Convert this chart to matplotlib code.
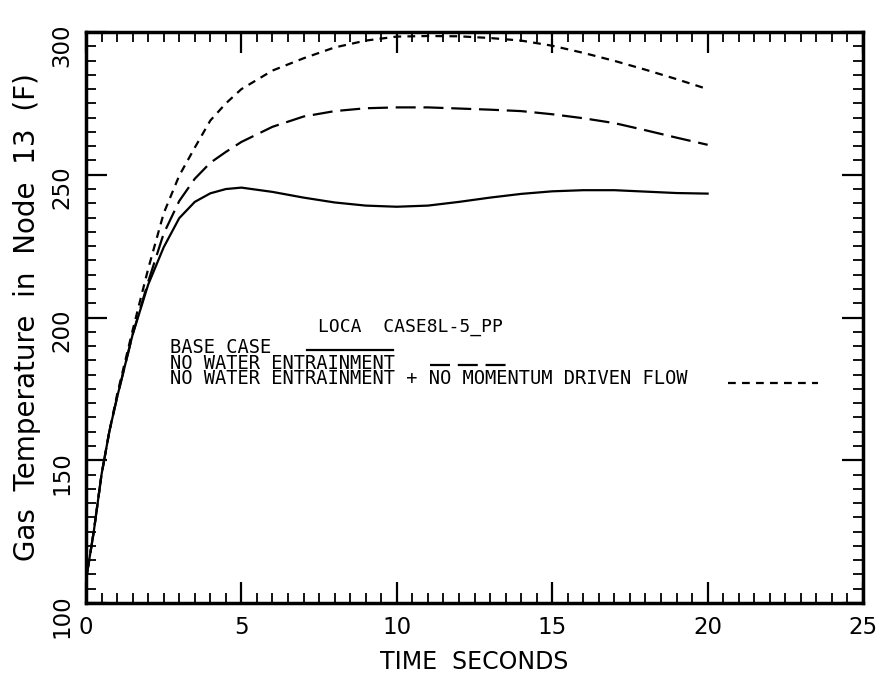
import matplotlib
matplotlib.use("Agg")
import matplotlib.pyplot as plt
from matplotlib.ticker import MultipleLocator

# gas temperature in node 13, LOCA case 8L-5_PP
time_s = [0, 0.25, 0.5, 0.75, 1, 1.5, 2, 2.5, 3, 3.5, 4, 4.5, 5,
          6, 7, 8, 9, 10, 11, 12, 13, 14, 15, 16, 17, 18, 19, 20]
base_case = [108, 125, 145, 160, 172, 194, 211.5, 224.6, 234.8, 240.5, 243.5, 245, 245.5,
             244, 242, 240.3, 239.2, 238.8, 239.2, 240.5, 242, 243.3, 244.2, 244.6,
             244.6, 244.1, 243.6, 243.4]
no_entrain = [108, 125, 145, 160, 172, 194, 212.5, 229.4, 240.8, 248.6, 254.2, 258, 261.5,
              266.8, 270.4, 272.3, 273.3, 273.6, 273.6, 273.2, 272.8, 272.3, 271.2, 269.8,
              268.1, 265.6, 263, 260.5]
no_entrain_no_mom = [108, 125, 145, 160, 173, 195.5, 217, 236.5, 249.7, 259.5, 269, 275, 280,
                     286.5, 290.8, 294.6, 297, 298.4, 298.6, 298.5, 297.9, 297, 295.2, 292.7,
                     289.9, 286.8, 283.5, 280]

legend_title = "LOCA  CASE8L-5_PP"
legend_labels = ["BASE CASE",
                 "NO WATER ENTRAINMENT",
                 "NO WATER ENTRAINMENT + NO MOMENTUM DRIVEN FLOW"]

fig = plt.figure(figsize=(8.81, 6.77), dpi=100)
ax = fig.add_axes([0.0976, 0.1093, 0.882, 0.8434])

lw = 1.6
dash_style = (0, (9, 3.5))
dot_style = (0, (3.5, 2.8))

ax.plot(time_s, base_case, color="black", lw=lw, solid_joinstyle="round")
ax.plot(time_s, no_entrain, color="black", lw=lw, linestyle=dash_style)
ax.plot(time_s, no_entrain_no_mom, color="black", lw=lw, linestyle=dot_style)

ax.set_xlim(0, 25)
ax.set_ylim(100, 300)
ax.xaxis.set_major_locator(MultipleLocator(5))
ax.xaxis.set_minor_locator(MultipleLocator(0.5))
ax.yaxis.set_major_locator(MultipleLocator(50))
ax.yaxis.set_minor_locator(MultipleLocator(5))

for s in ax.spines.values():
    s.set_linewidth(2.5)
ax.tick_params(which="both", direction="in", top=True, right=True, color="black")
ax.tick_params(which="major", length=15, width=1.6, labelsize=16.5, pad=9)
ax.tick_params(which="minor", length=7, width=1.3)
ax.tick_params(axis="y", labelrotation=90)

ax.set_xlabel("TIME  SECONDS", fontsize=17, labelpad=8)
ax.set_ylabel("Gas  Temperature  in  Node  13  (F)", fontsize=20, labelpad=7)

# hand-made legend block inside the axes
mono = "DejaVu Sans Mono"
tr = ax.transAxes
ax.text(0.417, 0.483, legend_title, transform=tr, fontsize=13, family=mono,
        ha="center", va="center")
ax.text(0.108, 0.420, "\n".join(legend_labels), transform=tr, fontsize=13.5,
        family=mono, ha="left", va="center", linespacing=0.78)
ax.plot([0.284, 0.395], [0.443, 0.443], transform=tr, color="black", lw=lw)
ax.plot([0.443, 0.546], [0.417, 0.417], transform=tr, color="black", lw=lw,
        linestyle=dash_style)
ax.plot([0.826, 0.942], [0.385, 0.385], transform=tr, color="black", lw=lw,
        linestyle=dot_style)

fig.savefig("out.png", dpi=100)
